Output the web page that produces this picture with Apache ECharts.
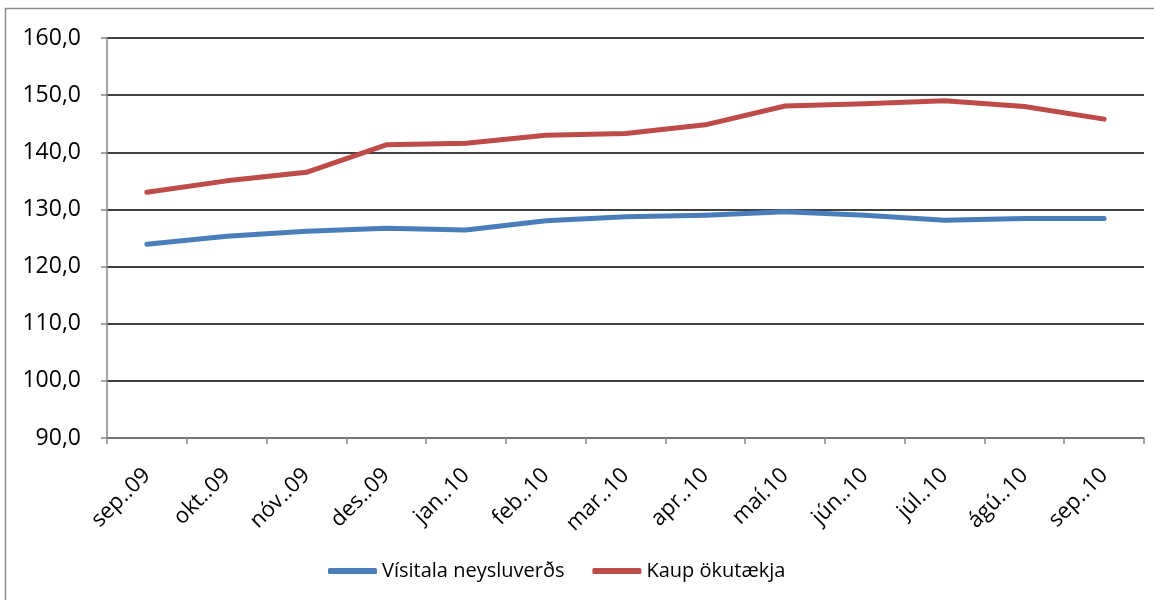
<!DOCTYPE html>
<html>
<head>
<meta charset="utf-8">
<script src="https://cdn.jsdelivr.net/npm/echarts@6/dist/echarts.min.js"></script>
<style>
    html, body { margin: 0; padding: 0; background: #fff; }
    #chart { width: 1154px; height: 600px; }
</style>
</head>
<body>
<div id="chart"></div>
<script>
    // months on the x axis
    var months = ['sep..09', 'okt..09', 'nóv..09', 'des..09', 'jan..10', 'feb..10', 'mar..10',
        'apr..10', 'maí.10', 'jún..10', 'júl..10', 'ágú..10', 'sep..10'];
    // index values
    var visitala = [123.9, 125.3, 126.2, 126.7, 126.4, 128.0, 128.7, 129.0, 129.6, 129.0, 128.1, 128.4, 128.4];
    var kaup = [133.0, 135.0, 136.5, 141.3, 141.6, 143.0, 143.3, 144.8, 148.1, 148.5, 149.0, 148.0, 145.8];
    var seriesNames = ['Vísitala neysluverðs', 'Kaup ökutækja'];

    var font = '"Open Sans", "Liberation Sans", sans-serif';

    var chart = echarts.init(document.getElementById('chart'));
    chart.setOption({
        animation: false,
        textStyle: { fontFamily: font },
        graphic: [{
            type: 'rect',
            shape: { x: 5.5, y: 8.5, width: 1160, height: 600 },
            style: { fill: 'none', stroke: '#8c8c8c', lineWidth: 1.5 },
            silent: true
        }],
        grid: { left: 107, right: 10, top: 38, bottom: 162 },
        legend: {
            bottom: 14,
            left: 323,
            data: seriesNames,
            icon: 'roundRect',
            itemWidth: 49,
            itemHeight: 6,
            itemGap: 28,
            textStyle: { fontSize: 20, color: '#000', fontFamily: font }
        },
        color: ['#4A7EBB', '#BE4B48'],
        xAxis: {
            type: 'category',
            data: months,
            boundaryGap: true,
            axisLine: { lineStyle: { color: '#868686', width: 1.5 } },
            axisTick: { show: true, length: 6, lineStyle: { color: '#868686', width: 1.5 } },
            axisLabel: { rotate: 45, fontSize: 22, color: '#000', margin: 34, interval: 0 },
            splitLine: { show: false }
        },
        yAxis: {
            type: 'value',
            min: 90,
            max: 160,
            interval: 10,
            axisLine: { show: true, lineStyle: { color: '#868686', width: 1.5 } },
            axisTick: { show: true, length: 6, lineStyle: { color: '#868686', width: 1.5 } },
            axisLabel: {
                fontSize: 23, color: '#000', margin: 26,
                formatter: function (v) { return v.toFixed(1).replace('.', ','); }
            },
            splitLine: { lineStyle: { color: '#000', width: 1.5 } }
        },
        series: [{
            name: seriesNames[0],
            type: 'line',
            data: visitala,
            symbol: 'none',
            lineStyle: { width: 5, cap: 'round', join: 'round' }
        }, {
            name: seriesNames[1],
            type: 'line',
            data: kaup,
            symbol: 'none',
            lineStyle: { width: 5, cap: 'round', join: 'round' }
        }]
    });
</script>
</body>
</html>
